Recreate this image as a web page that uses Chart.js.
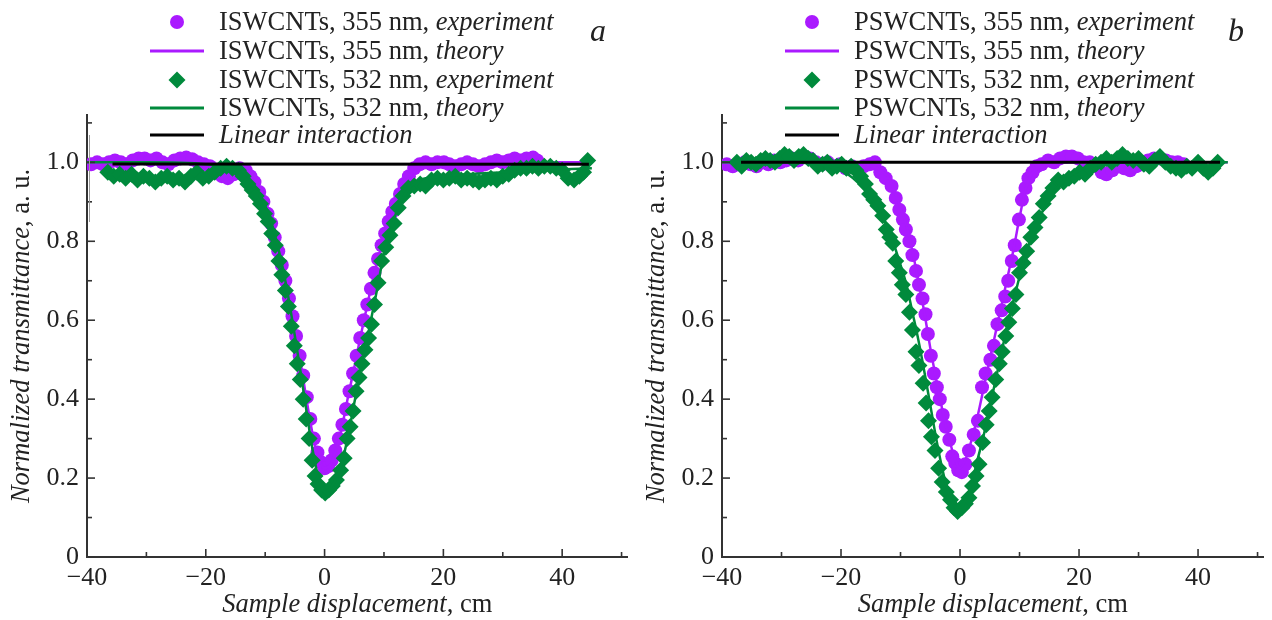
<!DOCTYPE html>
<html><head><meta charset="utf-8">
<script src="https://cdn.jsdelivr.net/npm/chart.js@4.4.1/dist/chart.umd.min.js"></script>
<style>
html,body{margin:0;padding:0;background:#fff;}
#wrap{position:relative;width:1272px;height:620px;overflow:hidden;background:#fff;}
canvas{position:absolute;top:0;}
</style></head><body>
<div id="wrap">
<canvas id="ca" width="636" height="620" style="left:0;width:636px;height:620px"></canvas>
<canvas id="cb" width="637" height="620" style="left:635px;width:637px;height:620px"></canvas>
</div>
<script>
// ---------------- DATA ----------------
// Panel a: ISWCNTs
const a355ExpX = [-39.3,-38.3,-37.3,-36.3,-35.3,-34.3,-33.3,-32.3,-31.3,-30.3,-29.3,-28.3,-27.3,-26.3,-25.3,-24.3,-23.3,-22.3,-21.3,-20.3,-19.3,-18.3,-17.3,-16.3,-15.3,-14.3,-13.3,-12.5,-11.8,-11.0,-10.3,-9.6,-9.0,-8.4,-7.8,-7.2,-6.6,-6.0,-5.4,-4.8,-4.2,-3.6,-3.0,-2.4,-1.8,-1.2,-0.6,0.0,0.6,1.2,1.8,2.4,3.0,3.6,4.2,4.8,5.4,6.0,6.6,7.2,7.8,8.4,9.0,9.6,10.2,10.8,11.4,12.0,12.7,13.4,14.2,15.1,16.0,17.0,18.0,19.0,20.1,21.0,22.0,23.0,24.0,25.0,26.0,27.0,28.0,29.0,30.0,31.0,32.0,33.0,34.0,35.1,35.8];
const a355ExpY = [0.995,1.0,0.995,1.0,1.005,1.0,0.995,1.005,1.01,1.01,1.005,1.01,1.0,0.995,1.005,1.01,1.012,1.008,1.0,0.995,0.99,0.975,0.965,0.96,0.97,0.985,0.98,0.965,0.95,0.925,0.90,0.87,0.845,0.81,0.775,0.74,0.70,0.655,0.61,0.56,0.51,0.46,0.405,0.35,0.30,0.265,0.24,0.225,0.23,0.245,0.27,0.30,0.335,0.375,0.42,0.465,0.51,0.555,0.60,0.64,0.68,0.72,0.755,0.79,0.82,0.85,0.875,0.895,0.92,0.945,0.965,0.985,0.995,1.0,0.995,1.0,1.0,0.995,0.99,0.995,1.0,0.995,0.99,0.995,1.0,1.005,1.0,1.005,1.01,1.005,1.01,1.012,1.005];
const a532ExpX = [-36.5,-35.5,-34.5,-33.5,-32.5,-31.5,-30.5,-29.5,-28.5,-27.5,-26.5,-25.5,-24.5,-23.5,-22.5,-21.5,-20.5,-19.5,-18.5,-17.5,-16.5,-15.5,-14.5,-13.7,-12.9,-12.2,-11.5,-10.8,-10.1,-9.5,-8.9,-8.3,-7.7,-7.2,-6.6,-6.1,-5.6,-5.1,-4.6,-4.1,-3.6,-3.1,-2.6,-2.1,-1.6,-1.1,-0.5,0.1,0.7,1.3,2.0,2.7,3.3,3.8,4.3,4.8,5.3,5.8,6.3,6.8,7.4,7.9,8.4,9.0,9.6,10.3,11.0,11.7,12.4,13.2,14.1,15.1,16.1,17.0,18.0,19.0,20.0,21.0,22.0,23.0,24.0,25.0,26.0,27.0,28.0,29.0,30.0,31.0,32.0,33.0,34.0,35.0,36.0,37.0,38.0,39.0,40.0,41.0,42.0,42.9,43.6,44.3];
const a532ExpY = [0.975,0.965,0.97,0.96,0.97,0.955,0.965,0.96,0.95,0.96,0.965,0.955,0.96,0.95,0.965,0.975,0.96,0.965,0.975,0.985,0.99,0.985,0.98,0.965,0.945,0.93,0.915,0.895,0.87,0.85,0.82,0.79,0.75,0.715,0.675,0.635,0.585,0.535,0.49,0.45,0.40,0.35,0.30,0.245,0.205,0.185,0.17,0.162,0.17,0.18,0.195,0.22,0.25,0.30,0.33,0.37,0.42,0.455,0.49,0.525,0.555,0.59,0.64,0.695,0.75,0.785,0.815,0.845,0.885,0.915,0.935,0.94,0.945,0.94,0.955,0.96,0.955,0.96,0.965,0.955,0.96,0.955,0.95,0.955,0.96,0.955,0.965,0.97,0.98,0.985,0.985,0.99,0.985,0.99,0.99,0.985,0.98,0.96,0.955,0.965,0.975,1.005];
const a355TheoryX = [-40,-30,-20,-16,-14,-12,-10,-9,-8,-7,-6,-5,-4,-3,-2,-1,0,1,2,3,4,5,6,7,8,9,10,11,12,13,14,16,20,30,45];
const a355TheoryY = [1.0,1.0,0.998,0.99,0.975,0.95,0.9,0.86,0.805,0.74,0.665,0.58,0.49,0.395,0.31,0.25,0.225,0.235,0.275,0.335,0.41,0.48,0.555,0.625,0.695,0.755,0.81,0.86,0.9,0.935,0.96,0.985,0.998,1.0,1.0];
const a532TheoryX = [-40,-30,-20,-16,-14,-12,-10,-9,-8,-7,-6,-5,-4,-3,-2,-1,0,1,2,3,4,5,6,7,8,9,10,11,12,13,14,16,20,30,45];
const a532TheoryY = [1.0,1.0,0.995,0.985,0.97,0.94,0.89,0.85,0.795,0.73,0.65,0.56,0.465,0.365,0.27,0.2,0.165,0.175,0.2,0.245,0.31,0.39,0.47,0.54,0.615,0.69,0.77,0.82,0.87,0.905,0.93,0.955,0.965,0.975,0.985];
const aLinearX = [-35.7,44.5];
const aLinearY = [0.996,0.995];

// Panel b: PSWCNTs
const b355ExpX = [-39.2,-38.2,-37.2,-36.2,-35.2,-34.2,-33.2,-32.2,-31.2,-30.2,-29.2,-28.2,-27.2,-26.2,-25.2,-24.2,-23.2,-22.2,-21.2,-20.2,-19.2,-18.2,-17.2,-16.2,-15.2,-14.3,-13.4,-12.5,-11.5,-10.8,-10.2,-9.6,-9.1,-8.5,-8.0,-7.4,-6.9,-6.3,-5.8,-5.4,-4.9,-4.4,-3.9,-3.4,-2.9,-2.4,-1.8,-1.3,-0.8,-0.3,0.3,0.9,1.5,2.3,3.0,3.7,4.3,5.1,5.7,6.3,7.0,7.6,8.1,8.7,9.2,9.9,10.4,11.0,11.5,12.2,12.9,13.7,14.8,15.8,16.8,17.8,18.8,19.8,20.8,21.8,22.8,23.8,24.6,25.6,26.6,27.6,28.6,29.6,30.6,31.6,32.6,33.6,34.6,35.6,36.6,37.6];
const b355ExpY = [0.995,0.99,0.995,1.0,0.995,0.99,1.0,0.995,1.005,1.0,1.005,1.01,1.005,1.015,1.01,1.0,0.995,1.0,0.99,0.995,0.985,0.99,0.985,0.99,0.995,1.0,0.975,0.96,0.94,0.91,0.88,0.855,0.83,0.80,0.765,0.725,0.69,0.655,0.615,0.565,0.51,0.465,0.43,0.40,0.36,0.33,0.297,0.255,0.238,0.22,0.215,0.235,0.27,0.31,0.345,0.43,0.465,0.50,0.535,0.59,0.625,0.66,0.70,0.75,0.79,0.855,0.905,0.935,0.96,0.975,0.99,0.995,1.005,1.0,1.01,1.015,1.015,1.01,1.0,1.0,0.99,0.975,0.97,0.98,0.99,0.985,0.98,0.99,0.995,1.005,1.01,1.01,1.005,1.0,1.0,0.995];
const b532ExpX = [-37.5,-36.7,-35.9,-35.1,-34.3,-33.5,-32.7,-31.9,-31.1,-30.3,-29.5,-28.7,-27.9,-27.1,-26.3,-25.5,-24.7,-23.9,-23.1,-22.3,-21.5,-20.7,-19.9,-19.1,-18.3,-17.5,-16.7,-15.9,-15.2,-14.5,-13.8,-13.0,-12.4,-11.8,-11.3,-10.8,-10.2,-9.7,-9.1,-8.5,-8.0,-7.4,-6.9,-6.2,-5.7,-5.3,-4.8,-4.2,-3.6,-3.0,-2.3,-1.6,-1.0,-0.4,0.3,0.9,1.5,2.1,2.7,3.2,3.8,4.4,4.9,5.4,6.0,6.6,7.1,7.7,8.2,8.8,9.4,10.0,10.6,11.2,11.9,12.6,13.3,14.0,14.8,15.6,16.5,17.4,18.3,19.2,20.1,21.0,21.9,22.8,23.7,24.6,25.5,26.4,27.3,28.2,29.1,30.0,30.9,31.8,32.7,33.6,34.5,35.4,36.3,37.2,38.1,39.0,40.0,40.9,41.7,42.5,43.3];
const b532ExpY = [1.0,0.99,1.005,1.0,0.995,1.005,1.01,1.005,1.0,1.01,1.02,1.015,1.005,1.015,1.02,1.01,1.005,0.99,0.995,1.0,0.985,0.99,0.995,0.985,0.99,0.98,0.965,0.945,0.92,0.905,0.89,0.865,0.83,0.81,0.795,0.75,0.72,0.69,0.665,0.62,0.575,0.52,0.485,0.44,0.39,0.345,0.305,0.27,0.225,0.19,0.165,0.145,0.125,0.115,0.125,0.135,0.15,0.18,0.205,0.235,0.29,0.335,0.37,0.405,0.45,0.49,0.52,0.56,0.595,0.63,0.665,0.72,0.745,0.775,0.81,0.835,0.86,0.895,0.915,0.935,0.955,0.95,0.96,0.965,0.975,0.97,0.985,0.995,1.0,1.01,1.0,1.01,1.02,1.01,1.005,1.01,0.995,0.99,1.005,1.015,1.0,0.99,0.985,0.98,0.99,0.985,1.0,0.985,0.975,0.985,1.0];
const b355TheoryX = [-40,-30,-20,-16,-14,-12,-10,-9,-8,-7,-6,-5,-4,-3,-2,-1,0,1,2,3,4,5,6,7,8,9,10,11,12,14,16,20,30,45];
const b355TheoryY = [1.0,1.0,1.0,0.995,0.985,0.96,0.885,0.84,0.775,0.70,0.62,0.53,0.45,0.375,0.31,0.255,0.225,0.25,0.30,0.36,0.43,0.50,0.57,0.64,0.71,0.78,0.86,0.93,0.97,0.99,0.998,1.0,1.0,1.0];
const b532TheoryX = [-40,-30,-24,-20,-18,-16,-14,-12,-10,-9,-8,-7,-6,-5,-4,-3,-2,-1,0,1,2,3,4,5,6,7,8,9,10,11,12,14,16,18,20,24,30,45];
const b532TheoryY = [1.0,1.0,0.995,0.98,0.96,0.93,0.885,0.83,0.74,0.69,0.62,0.55,0.47,0.385,0.30,0.225,0.165,0.13,0.125,0.145,0.19,0.25,0.31,0.38,0.45,0.52,0.59,0.65,0.71,0.765,0.81,0.88,0.93,0.96,0.98,0.995,1.0,1.0];
const bLinearX = [-36.8,43.7];
const bLinearY = [1.0,1.0];

// Text
const legendA = [['ISWCNTs, 355 nm, ','experiment'],['ISWCNTs, 355 nm, ','theory'],['ISWCNTs, 532 nm, ','experiment'],['ISWCNTs, 532 nm, ','theory'],['','Linear interaction']];
const legendB = [['PSWCNTs, 355 nm, ','experiment'],['PSWCNTs, 355 nm, ','theory'],['PSWCNTs, 532 nm, ','experiment'],['PSWCNTs, 532 nm, ','theory'],['','Linear interaction']];
const xTitle = ['Sample displacement', ', cm'];
const yTitle = ['Normalized transmittance', ', a. u.'];
const xTickValues = [-40,-20,0,20,40];
const yTickValues = [0,0.2,0.4,0.6,0.8,1.0];

// ---------------- STYLE ----------------
const PURPLE = '#aa1aff';
const GREEN = '#008a3c';
const BLACK = '#000000';
const AXIS = '#333333';
const TEXT = '#222222';
const SERIF = '"Liberation Serif","Times New Roman",serif';

function pts(xs, ys){ return xs.map((x,i)=>({x:x, y:ys[i]})); }

function drawParts(ctx, parts, x, y, size, align){
  let total = 0;
  parts.forEach(p=>{ ctx.font = (p.i?'italic ':'')+size+'px '+SERIF; total += ctx.measureText(p.t).width; });
  let cx = align==='center' ? x - total/2 : x;
  parts.forEach(p=>{ ctx.font = (p.i?'italic ':'')+size+'px '+SERIF; ctx.fillText(p.t, cx, y); cx += ctx.measureText(p.t).width; });
}

const decorPlugin = {
  id: 'decor',
  afterDraw(chart, args, opts){
    const ctx = chart.ctx, xs = chart.scales.x, ys = chart.scales.y;
    ctx.save();
    // inward tick marks
    ctx.strokeStyle = AXIS; ctx.lineWidth = 1.6;
    xs.ticks.forEach(t=>{
      const p = xs.getPixelForValue(t.value);
      const len = xTickValues.includes(t.value) ? 8 : 5;
      ctx.beginPath(); ctx.moveTo(p, ys.bottom); ctx.lineTo(p, ys.bottom - len); ctx.stroke();
    });
    ys.ticks.forEach(t=>{
      const p = ys.getPixelForValue(t.value);
      const major = yTickValues.some(v=>Math.abs(v-t.value)<1e-6);
      const len = major ? 8 : 5;
      ctx.beginPath(); ctx.moveTo(xs.left, p); ctx.lineTo(xs.left + len, p); ctx.stroke();
    });
    if (opts.ghost) {
      ctx.strokeStyle = '#9a9a9a'; ctx.lineWidth = 1;
      ctx.beginPath(); ctx.moveTo(89.5, 135); ctx.lineTo(89.5, 222); ctx.stroke();
    }
    ctx.fillStyle = TEXT;
    ctx.textBaseline = 'alphabetic';
    // x title
    const cxm = (chart.chartArea.left + chart.chartArea.right)/2;
    drawParts(ctx, [{t:xTitle[0], i:true},{t:xTitle[1], i:false}], cxm, 612, 26.5, 'center');
    // y title
    const cym = (chart.chartArea.top + chart.chartArea.bottom)/2;
    ctx.save(); ctx.translate(29, cym); ctx.rotate(-Math.PI/2);
    drawParts(ctx, [{t:yTitle[0], i:true},{t:yTitle[1], i:false}], 0, 0, 26.5, 'center');
    ctx.restore();
    // panel letter
    ctx.font = 'italic 32px '+SERIF; ctx.textAlign = 'center';
    ctx.fillText(opts.letter, opts.letterX, 41);
    ctx.textAlign = 'left';
    // legend
    const rows = [22, 51, 80, 108, 135];
    const ds = chart.data.datasets;
    [0,1,2,3,4].forEach((di, k)=>{
      const d = ds[di]; const y = rows[k];
      if (d.showLine === false) {
        ctx.fillStyle = d.pointBackgroundColor;
        ctx.beginPath();
        if (d.pointStyle === 'circle') { ctx.arc(177, y, 7, 0, Math.PI*2); }
        else { const r = 8.5; ctx.moveTo(177, y-r); ctx.lineTo(177+r, y); ctx.lineTo(177, y+r); ctx.lineTo(177-r, y); ctx.closePath(); }
        ctx.fill();
      } else {
        ctx.strokeStyle = d.borderColor; ctx.lineWidth = 3;
        ctx.beginPath(); ctx.moveTo(150, y); ctx.lineTo(204, y); ctx.stroke();
      }
      ctx.fillStyle = TEXT; ctx.textBaseline = 'middle';
      const txt = opts.legend[k];
      const parts = [];
      if (txt[0]) parts.push({t:txt[0], i:false});
      parts.push({t:txt[1], i:true});
      drawParts(ctx, parts, 219, y+1, 26.5, 'left');
    });
    ctx.restore();
  }
};

function makeChart(id, d355, t355, d532, t532, lin, padRight, legend, letter, letterX, ghost){
  const datasets = [
    {label:'355 exp', data:d355, showLine:false, pointStyle:'circle', pointRadius:7, pointBackgroundColor:PURPLE, pointBorderColor:PURPLE, pointBorderWidth:0, borderColor:PURPLE, order:4},
    {label:'355 theory', data:t355, showLine:true, pointRadius:0, borderColor:PURPLE, borderWidth:2.5, cubicInterpolationMode:'monotone', fill:false, order:3},
    {label:'532 exp', data:d532, showLine:false, pointStyle:'rectRot', pointRadius:8.5, pointBackgroundColor:GREEN, pointBorderColor:GREEN, pointBorderWidth:0, borderColor:GREEN, order:2},
    {label:'532 theory', data:t532, showLine:true, pointRadius:0, borderColor:GREEN, borderWidth:2.5, cubicInterpolationMode:'monotone', fill:false, order:1},
    {label:'linear', data:lin, showLine:true, pointRadius:0, borderColor:BLACK, borderWidth:3, fill:false, order:0}
  ];
  return new Chart(document.getElementById(id), {
    type:'line',
    data:{datasets:datasets},
    plugins:[decorPlugin],
    options:{
      responsive:false, animation:false, devicePixelRatio:1,
      layout:{padding:{top:115, right:padRight, left:0, bottom:0}},
      plugins:{legend:{display:false}, tooltip:{enabled:false}, decor:{legend:legend, letter:letter, letterX:letterX, ghost:ghost}},
      elements:{line:{tension:0}},
      scales:{
        x:{type:'linear', min:-40, max:51,
          grid:{display:false, drawTicks:false},
          border:{display:true, color:AXIS, width:2},
          ticks:{stepSize:10, includeBounds:false, padding:6, color:TEXT, font:{family:SERIF, size:26},
            maxRotation:0, autoSkip:false,
            callback:(v)=> xTickValues.includes(v) ? String(v).replace('-', '\u2212') : ''},
          afterFit:(s)=>{ s.height = 63; }
        },
        y:{type:'linear', min:0, max:1.12,
          grid:{display:false, drawTicks:false},
          border:{display:true, color:AXIS, width:2},
          ticks:{stepSize:0.1, includeBounds:false, padding:8, color:TEXT, font:{family:SERIF, size:26}, autoSkip:false,
            callback:(v)=>{ const k = Math.round(v*10); if (!yTickValues.some(t=>Math.abs(t-v)<1e-6)) return ''; return k===0 ? '0' : (k/10).toFixed(1); }},
          afterFit:(s)=>{ s.width = 87; }
        }
      }
    }
  });
}

makeChart('ca', pts(a355ExpX,a355ExpY), pts(a355TheoryX,a355TheoryY), pts(a532ExpX,a532ExpY), pts(a532TheoryX,a532TheoryY), pts(aLinearX,aLinearY), 3, legendA, 'a', 598, true);
makeChart('cb', pts(b355ExpX,b355ExpY), pts(b355TheoryX,b355TheoryY), pts(b532ExpX,b532ExpY), pts(b532TheoryX,b532TheoryY), pts(bLinearX,bLinearY), 8, legendB, 'b', 601, false);
</script>
</body></html>
